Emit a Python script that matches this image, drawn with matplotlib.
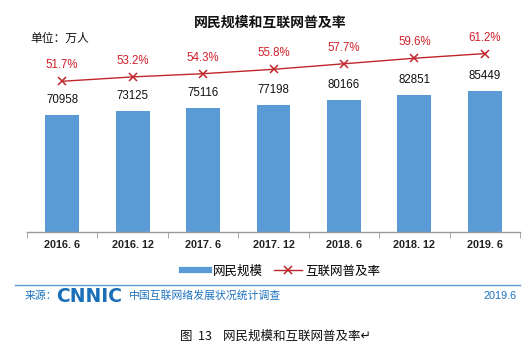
import matplotlib
matplotlib.use("Agg")
import matplotlib.pyplot as plt
from matplotlib.lines import Line2D

plt.rcParams['font.family'] = ['Noto Sans CJK SC', 'DejaVu Sans']

categories = ["2016. 6", "2016. 12", "2017. 6", "2017. 12", "2018. 6", "2018. 12", "2019. 6"]
users = [70958, 73125, 75116, 77198, 80166, 82851, 85449]
rate = [51.7, 53.2, 54.3, 55.8, 57.7, 59.6, 61.2]

W, H = 529, 348
fig = plt.figure(figsize=(W / 100, H / 100), dpi=100)
fig.patch.set_facecolor('white')

ax_l, ax_r, ax_b, ax_t = 27, 520, 232, 32
ax = fig.add_axes([ax_l / W, 1 - ax_b / H, (ax_r - ax_l) / W, (ax_b - ax_t) / H])
ax.patch.set_alpha(0)
x = list(range(len(categories)))
bar_color = '#5B9BD5'
ax.bar(x, users, width=0.48, color=bar_color, zorder=2)
ax.set_xlim(-0.5, len(categories) - 0.5)
ax.set_ylim(0, 121200)
for xi, v in zip(x, users):
    ax.annotate(str(v), (xi, v), xytext=(0, 15), textcoords='offset pixels',
                ha='center', va='center', fontsize=8.3, color='#111111',
                family='Liberation Sans')
for s in ['top', 'right', 'left']:
    ax.spines[s].set_visible(False)
ax.spines['bottom'].set_color('#999999')
ax.spines['bottom'].set_linewidth(1.0)
ax.set_yticks([])
ax.set_xticks(x)
ax.set_xticklabels(categories, fontsize=7.8, fontweight='bold', family='Liberation Sans', color='#222222')
ax.tick_params(axis='x', which='major', length=0, pad=6)
ax.set_xticks([i - 0.5 for i in range(len(categories) + 1)], minor=True)
ax.tick_params(axis='x', which='minor', length=4, color='#999999', direction='out')

ax2 = ax.twinx()
ax2.set_ylim(0, 68.6)
line_color = '#C0262D'
ax2.plot(x, rate, color=line_color, lw=1.0, marker='x', markersize=6, markeredgewidth=1.1, zorder=3)
for xi, v in zip(x, rate):
    ax2.annotate(f"{v}%", (xi, v), xytext=(0, 16), textcoords='offset pixels',
                 ha='center', va='center', fontsize=8.3, color='#D0202A',
                 family='Liberation Sans')
ax2.set_yticks([])
for s in ['top', 'right', 'left', 'bottom']:
    ax2.spines[s].set_visible(False)

# title
fig.text(270 / W, 1 - 23 / H, "网民规模和互联网普及率", fontsize=10, fontweight='bold',
         ha='center', va='center', color='#111111')
fig.text(30 / W, 1 - 38 / H, "单位：万人", fontsize=8.5, ha='left', va='center', color='#111111')

# legend
handles = [Line2D([0], [0], color=bar_color, lw=4.5),
           Line2D([0], [0], color=line_color, lw=1.0, marker='x', markersize=6, markeredgewidth=1.1)]
fig.legend(handles, ["网民规模", "互联网普及率"], loc='center', bbox_to_anchor=(281 / W, 1 - 271 / H),
           ncol=2, frameon=False, fontsize=9, handlelength=2.2, columnspacing=0.9, handletextpad=0.3)

# separator
fig.add_artist(Line2D([15 / W, 520 / W], [1 - 285 / H, 1 - 285 / H], color='#5B9BD5', lw=1.0))

src_color = '#1E73BE'
fig.text(25 / W, 1 - 296 / H, "来源：", fontsize=7.8, color=src_color, ha='left', va='center')
fig.text(56 / W, 1 - 296 / H, "CNNIC", fontsize=13.5, fontweight='bold', color='#1A6FB8',
         ha='left', va='center', family='DejaVu Sans')
fig.text(129 / W, 1 - 296 / H, "中国互联网络发展状况统计调查", fontsize=7.8, color=src_color,
         ha='left', va='center')
fig.text(517 / W, 1 - 296 / H, "2019.6", fontsize=7.8, color=src_color, ha='right', va='center',
         family='Liberation Sans')

fig.text(275 / W, 1 - 336 / H, "图  13    网民规模和互联网普及率↵", fontsize=9, color='#111111',
         ha='center', va='center')

fig.savefig("out.png", dpi=100)
